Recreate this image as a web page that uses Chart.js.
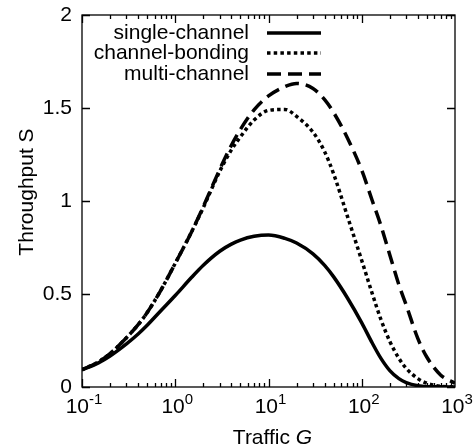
<!DOCTYPE html>
<html>
<head>
<meta charset="utf-8">
<title>Throughput vs traffic</title>
<script src="https://cdn.jsdelivr.net/npm/chart.js@4.4.1/dist/chart.umd.min.js"></script>
<style>
  html, body { margin: 0; padding: 0; background: #fff; }
  canvas { display: block; }
</style>
</head>
<body>
<canvas id="throughputChart" width="475" height="445"></canvas>
<script>
// Offered traffic G (log axis) and throughput S of the three schemes
const trafficG = [0.1, 0.15, 0.2, 0.3, 0.4, 0.5, 0.7, 1, 1.5, 2, 3, 4, 5, 7, 10, 15, 20, 30, 40, 50, 70, 100, 130, 160, 200, 250, 300, 400, 500, 700, 1000];
const singleChannel = [0.092, 0.13, 0.167, 0.232, 0.285, 0.332, 0.41, 0.492, 0.59, 0.655, 0.73, 0.768, 0.79, 0.81, 0.817, 0.799, 0.774, 0.716, 0.654, 0.592, 0.48, 0.345, 0.235, 0.155, 0.088, 0.045, 0.024, 0.007, 0.002, 0.001, 0];
const channelBonding = [0.093, 0.135, 0.18, 0.265, 0.335, 0.40, 0.52, 0.665, 0.835, 0.965, 1.16, 1.275, 1.345, 1.435, 1.487, 1.492, 1.455, 1.37, 1.265, 1.145, 0.92, 0.68, 0.50, 0.365, 0.245, 0.155, 0.10, 0.045, 0.02, 0.004, 0];
const multiChannel = [0.093, 0.135, 0.18, 0.265, 0.335, 0.40, 0.52, 0.665, 0.835, 0.97, 1.17, 1.30, 1.385, 1.49, 1.565, 1.615, 1.632, 1.605, 1.545, 1.475, 1.34, 1.165, 1.0, 0.87, 0.71, 0.55, 0.44, 0.26, 0.16, 0.065, 0.02];

const yTicks = [0, 0.5, 1, 1.5, 2];
const xDecades = [0.1, 1, 10, 100, 1000];
const xExponents = ['-1', '0', '1', '2', '3'];

const FONT = '"Liberation Sans", Arial, Helvetica, sans-serif';

function toPoints(values) {
  return trafficG.map((g, i) => ({ x: g, y: values[i] }));
}

// gnuplot style frame: box, inward ticks on all four sides, decade labels, key
const framePlugin = {
  id: 'framePlugin',
  afterDraw(chart) {
    const ctx = chart.ctx;
    const area = chart.chartArea;
    const xs = chart.scales.x;
    const ys = chart.scales.y;

    ctx.save();
    ctx.strokeStyle = '#000';
    ctx.lineWidth = 1.3;
    ctx.strokeRect(area.left, area.top, area.right - area.left, area.bottom - area.top);

    ctx.beginPath();
    yTicks.forEach(v => {
      const y = Math.round(ys.getPixelForValue(v)) + 0.5;
      ctx.moveTo(area.left, y);
      ctx.lineTo(area.left + 8, y);
      ctx.moveTo(area.right, y);
      ctx.lineTo(area.right - 8, y);
    });
    xDecades.slice(0, -1).forEach(d => {
      for (let k = 1; k <= 9; k++) {
        const x = Math.round(xs.getPixelForValue(d * k)) + 0.5;
        const len = k === 1 ? 8 : 4;
        ctx.moveTo(x, area.bottom);
        ctx.lineTo(x, area.bottom - len);
        ctx.moveTo(x, area.top);
        ctx.lineTo(x, area.top + len);
      }
    });
    ctx.stroke();

    // decade labels 10^n
    ctx.fillStyle = '#000';
    ctx.textBaseline = 'alphabetic';
    xDecades.forEach((d, i) => {
      const x = xs.getPixelForValue(d);
      ctx.font = '21px ' + FONT;
      const baseW = ctx.measureText('10').width;
      ctx.font = '15px ' + FONT;
      const expW = ctx.measureText(xExponents[i]).width;
      const start = x - (baseW + expW) / 2 + 2;
      ctx.textAlign = 'left';
      ctx.font = '21px ' + FONT;
      ctx.fillText('10', start, area.bottom + 26);
      ctx.font = '15px ' + FONT;
      ctx.fillText(xExponents[i], start + baseW, area.bottom + 17);
    });

    // axis titles
    ctx.font = '21px ' + FONT;
    const word = 'Traffic ';
    const wordW = ctx.measureText(word).width;
    ctx.font = 'italic 21px ' + FONT;
    const gW = ctx.measureText('G').width;
    const tx = (area.left + area.right) / 2 + 4 - (wordW + gW) / 2;
    ctx.font = '21px ' + FONT;
    ctx.fillText(word, tx, 444);
    ctx.font = 'italic 21px ' + FONT;
    ctx.fillText('G', tx + wordW, 444);

    ctx.save();
    ctx.translate(33, 192);
    ctx.rotate(-Math.PI / 2);
    ctx.textAlign = 'center';
    ctx.font = '21px ' + FONT;
    ctx.fillText('Throughput S', 0, 0);
    ctx.restore();

    // key: right aligned labels followed by line samples
    const rows = [32, 52, 73];
    chart.data.datasets.forEach((ds, i) => {
      ctx.font = '21px ' + FONT;
      ctx.textAlign = 'right';
      ctx.textBaseline = 'alphabetic';
      ctx.fillText(ds.label, 249, rows[i] + 7);
      ctx.beginPath();
      ctx.lineWidth = ds.borderWidth;
      ctx.lineCap = 'butt';
      ctx.setLineDash(ds.borderDash || []);
      ctx.moveTo(267, rows[i] + 1);
      ctx.lineTo(321, rows[i] + 1);
      ctx.stroke();
      ctx.setLineDash([]);
    });
    ctx.restore();
  }
};

new Chart(document.getElementById('throughputChart'), {
  type: 'line',
  data: {
    datasets: [
      {
        label: 'single-channel',
        data: toPoints(singleChannel),
        borderColor: '#000',
        borderWidth: 3.5,
        borderDash: []
      },
      {
        label: 'channel-bonding',
        data: toPoints(channelBonding),
        borderColor: '#000',
        borderWidth: 3.5,
        borderDash: [3.5, 3.2]
      },
      {
        label: 'multi-channel',
        data: toPoints(multiChannel),
        borderColor: '#000',
        borderWidth: 3.5,
        borderDash: [14, 7]
      }
    ]
  },
  options: {
    responsive: false,
    animation: false,
    devicePixelRatio: 1,
    layout: { padding: { top: 15, right: 20, left: 0, bottom: 0 } },
    elements: {
      point: { radius: 0 },
      line: { cubicInterpolationMode: 'monotone', fill: false }
    },
    plugins: {
      legend: { display: false },
      tooltip: { enabled: false }
    },
    scales: {
      x: {
        type: 'logarithmic',
        min: 0.1,
        max: 1000,
        grid: { display: false },
        border: { display: false },
        ticks: { display: false },
        afterFit: scale => { scale.height = 58; }
      },
      y: {
        type: 'linear',
        min: 0,
        max: 2,
        grid: { display: false, drawTicks: false },
        border: { display: false },
        afterBuildTicks: scale => { scale.ticks = yTicks.map(v => ({ value: v })); },
        ticks: {
          color: '#000',
          padding: 10,
          font: { family: FONT, size: 21 },
          callback: v => String(v)
        },
        afterFit: scale => {
          scale.width = 82;
          scale.paddingTop = 0;
          scale.paddingBottom = 0;
        }
      }
    }
  },
  plugins: [framePlugin]
});
</script>
</body>
</html>
